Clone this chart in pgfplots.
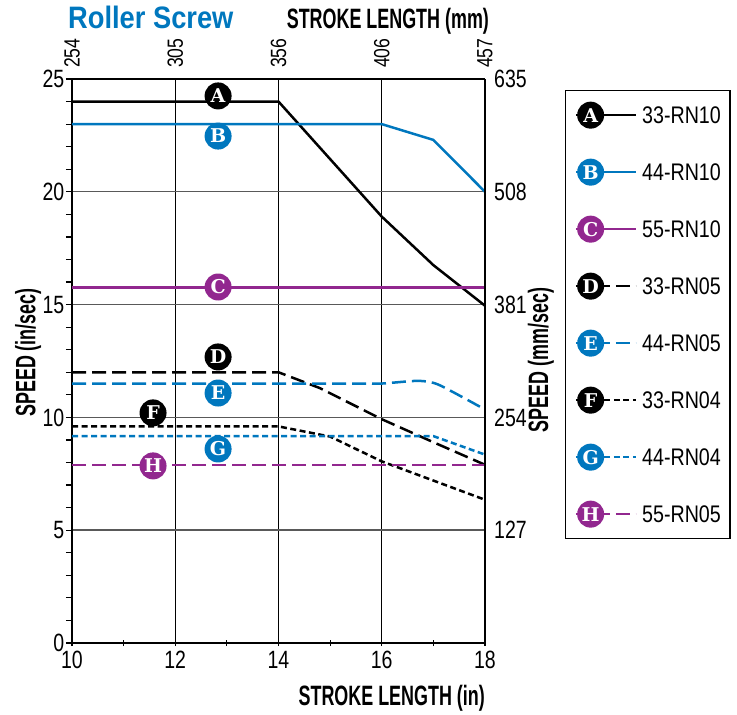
\documentclass[border=0pt]{standalone}
\usepackage{pgfplots}
\pgfplotsset{compat=1.18}
\usepackage{fontspec}
\setmainfont{Liberation Sans}[FakeStretch=0.78]
\newfontfamily\legfont{Liberation Sans}[FakeStretch=0.82]
\newfontfamily\topfont{Liberation Sans}[FakeStretch=0.8]
\newfontfamily\condbold{Liberation Sans}[FakeStretch=0.64]
\newfontfamily\titlefont{Liberation Sans}[FakeStretch=0.88]
\newfontfamily\letterfont{DejaVu Serif}
\definecolor{cblue}{RGB}{0,119,190}
\definecolor{cpurple}{RGB}{146,39,143}
\newcommand{\tickfont}{\fontsize{25bp}{25bp}\selectfont}
\newcommand{\labfont}{\condbold\bfseries\fontsize{28bp}{28bp}\selectfont}
\tikzset{
 lettercirc/.style={circle, inner sep=0pt, minimum size=27bp, text=white,
   font=\letterfont\bfseries\fontsize{19bp}{19bp}\selectfont},
 solidL/.style={line width=2.5bp},
 dashL/.style={line width=2.5bp, dash pattern=on 14bp off 6bp},
 dotL/.style={line width=2.5bp, dash pattern=on 6bp off 3.5bp},
}
\pgfplotsset{
 legimg/.style n args={2}{legend image code/.code={
   \draw[##1] (0bp,0bp) -- (60bp,0bp);
   \node[lettercirc, fill=#1] at (0bp,0bp) {#2};}},
}
\begin{document}
\begin{tikzpicture}
\useasboundingbox (0,0) rectangle (737bp,715bp);
% main axis (in, in/sec)
\begin{axis}[
  at={(72bp,72bp)}, anchor=south west,
  scale only axis, width=413bp, height=564bp,
  xmin=10, xmax=18, ymin=0, ymax=25,
  axis x line*=bottom, axis y line*=left,
  axis line style={-, line width=2bp, black},
  xtick={10,12,14,16,18}, ytick={0,5,10,15,20,25},
  minor x tick num=1, minor y tick num=4,
  xtick align=center, ytick align=outside,
  major tick length=6bp, minor tick length=6bp,
  tick style={black, line width=1.2bp},
  /pgf/number format/assume math mode=true,
  ticklabel style={font=\tickfont},
  yticklabel style={inner sep=1.5bp},
  xticklabel style={inner sep=2bp, yshift=-3bp},
  grid=major,
  major x grid style={black, line width=1bp},
  major y grid style={black!65, line width=1.4bp},
  xlabel={STROKE LENGTH (in)},
  xlabel style={at={(axis description cs:1.0,-0.1117)}, anchor=base east, inner sep=0pt, font=\labfont},
  ylabel={SPEED (in/sec)},
  ylabel style={at={(axis description cs:-0.106,0.515)}, anchor=center, rotate=0, inner sep=0pt, font=\labfont},
  title={Roller Screw},
  every axis title shift=0pt,
  title style={at={(axis description cs:-0.0097,1.0904)}, anchor=base west, text=cblue, yshift=0pt, inner sep=0pt,
    font=\titlefont\bfseries\fontsize{31bp}{31bp}\selectfont},
  legend cell align=left,
  legend style={
    at={(axis description cs:1.1937,0.9805)}, anchor=north west,
    draw=black, line width=1.3bp, fill=white,
    inner xsep=9bp, inner ysep=11bp,
    row sep=30bp,
    font=\legfont\fontsize{24bp}{24bp}\selectfont,
    nodes={inner sep=0bp, text depth=0bp},
    /tikz/every odd column/.append style={column sep=5bp},
  },
]
\addplot[black, solidL, legimg={black}{A}] coordinates {(10,24) (14,24) (16,18.9) (17,16.75) (18,14.95)};
\addlegendentry{33-RN10}
\addplot[cblue, solidL, legimg={cblue}{B}] coordinates {(10,23) (16,23) (17,22.3) (18,20)};
\addlegendentry{44-RN10}
\addplot[cpurple, solidL, legimg={cpurple}{C}] coordinates {(10,15.75) (18,15.75)};
\addlegendentry{55-RN10}
\addplot[black, dashL, legimg={black}{D}] coordinates {(10,12) (14,12) (14.8,11.3) (16,9.92) (17,8.9) (18,7.9)};
\addlegendentry{33-RN05}
\addplot[cblue, dashL, smooth, tension=0.4, legimg={cblue}{E}] coordinates {(10,11.5) (15.5,11.5) (16,11.5) (16.7,11.62) (17.1,11.45) (18,10.35)};
\addlegendentry{44-RN05}
\addplot[black, dotL, legimg={black}{F}] coordinates {(10,9.6) (14,9.6) (15,9.15) (16,8.05) (17,7.2) (18,6.35)};
\addlegendentry{33-RN04}
\addplot[cblue, dotL, legimg={cblue}{G}] coordinates {(10,9.17) (17,9.17) (18,8.35)};
\addlegendentry{44-RN04}
\addplot[cpurple, dashL, legimg={cpurple}{H}] coordinates {(10,7.9) (18,7.9)};
\addlegendentry{55-RN05}
% circled letters on the curves
\addplot[draw=none, mark=none, forget plot, nodes near coords, point meta=explicit symbolic,
  nodes near coords style={lettercirc, fill=black, anchor=center}]
  coordinates {(12.83,24.25) [A] (12.83,12.68) [D] (11.57,10.2) [F]};
\addplot[draw=none, mark=none, forget plot, nodes near coords, point meta=explicit symbolic,
  nodes near coords style={lettercirc, fill=cblue, anchor=center}]
  coordinates {(12.83,22.47) [B] (12.83,11.08) [E] (12.83,8.6) [G]};
\addplot[draw=none, mark=none, forget plot, nodes near coords, point meta=explicit symbolic,
  nodes near coords style={lettercirc, fill=cpurple, anchor=center}]
  coordinates {(12.83,15.78) [C] (11.57,7.85) [H]};
\end{axis}
% secondary axes (mm, mm/sec)
\begin{axis}[
  at={(72bp,72bp)}, anchor=south west,
  scale only axis, width=413bp, height=564bp,
  xmin=10, xmax=18, ymin=0, ymax=25,
  axis x line*=top, axis y line*=right,
  axis line style={-, line width=1.6bp, black},
  xtick={10,12,14,16,18}, xticklabels={254,305,356,406,457},
  ytick={5,10,15,20,25}, yticklabels={127,254,381,508,635},
  major tick length=0pt, tick style={draw=none},
  xticklabel style={rotate=90, anchor=west, inner sep=0pt, font=\topfont\fontsize{22bp}{22bp}\selectfont},
  xticklabel shift=11bp,
  yticklabel style={anchor=west, inner sep=0pt, font=\tickfont},
  yticklabel shift=9bp,
  xlabel={STROKE LENGTH (mm)},
  xlabel style={at={(axis description cs:1.01,1.0887)}, anchor=base east, inner sep=0pt, font=\labfont},
  ylabel={SPEED (mm/sec)},
  ylabel style={at={(axis description cs:1.1356,0.5018)}, anchor=center, rotate=0, inner sep=0pt, font=\labfont},
]
\addplot[draw=none, forget plot] coordinates {(10,0) (18,25)};
\end{axis}
\end{tikzpicture}
\end{document}
